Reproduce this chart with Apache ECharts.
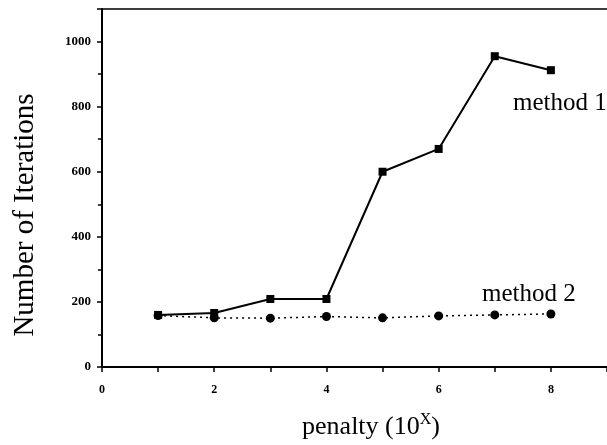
<!DOCTYPE html>
<html><head><meta charset="utf-8">
<script src="https://cdn.jsdelivr.net/npm/echarts@6/dist/echarts.min.js"></script>
<style>html,body{margin:0;padding:0;background:#fff}#c{width:607px;height:445px}</style>
</head><body><div id="c"></div>
<script>
const penalty = [1, 2, 3, 4, 5, 6, 7, 8];
const method1 = [160, 166, 209, 209, 600, 670, 955, 912];
const method2 = [158, 151, 150, 155, 151, 157, 160, 163];
const seriesNames = ['method 1', 'method 2'];
const yTitle = 'Number of Iterations';

const chart = echarts.init(document.getElementById('c'));
const serif = '"Liberation Serif", "DejaVu Serif", serif';
const tickLbl = { color: '#000', fontFamily: serif, fontWeight: 'bold' };
chart.setOption({
  animation: false,
  backgroundColor: '#fff',
  grid: { left: 102, top: 9, bottom: 78, right: 0, show: false },
  xAxis: [{
    type: 'value', min: 0, max: 9, interval: 2,
    axisLine: { show: true, onZero: false, lineStyle: { color: '#000', width: 2 } },
    axisTick: { show: true, length: 5, lineStyle: { color: '#000', width: 1.5 } },
    minorTick: { show: true, splitNumber: 2, length: 5, lineStyle: { color: '#000', width: 1.5 } },
    axisLabel: Object.assign({ margin: 17, fontSize: 12, showMaxLabel: false }, tickLbl),
    splitLine: { show: false }
  }, {
    type: 'value', min: 0, max: 9, position: 'top',
    axisLine: { show: true, onZero: false, lineStyle: { color: '#000', width: 1.5 } },
    axisTick: { show: false }, axisLabel: { show: false }, splitLine: { show: false }
  }],
  yAxis: {
    type: 'value', min: 0, max: 1100, interval: 200,
    axisLine: { show: true, onZero: false, lineStyle: { color: '#000', width: 2 } },
    axisTick: { show: true, length: 5, lineStyle: { color: '#000', width: 1.5 } },
    minorTick: { show: true, splitNumber: 2, length: 4, lineStyle: { color: '#000', width: 1.5 } },
    axisLabel: Object.assign({ margin: 11, fontSize: 13, showMaxLabel: false, formatter: v => String(v) }, tickLbl),
    splitLine: { show: false }
  },
  graphic: [
    { type: 'text', x: 25, y: 215, rotation: Math.PI / 2,
      style: { text: yTitle, font: '29px ' + serif, fill: '#000', align: 'center', verticalAlign: 'middle' } },
    { type: 'text', x: 371, y: 427,
      style: { text: '{a|penalty (10}{b|X}{a|)}', align: 'center', verticalAlign: 'middle',
        rich: { a: { fontFamily: serif, fontSize: 26, color: '#000' },
                b: { fontFamily: serif, fontSize: 16, color: '#000', verticalAlign: 'top', padding: [0, 0, 14, 0] } } } },
    { type: 'text', x: 513, y: 103,
      style: { text: seriesNames[0], font: '25px ' + serif, fill: '#000', verticalAlign: 'middle' } },
    { type: 'text', x: 482, y: 294,
      style: { text: seriesNames[1], font: '25px ' + serif, fill: '#000', verticalAlign: 'middle' } }
  ],
  series: [
    { name: seriesNames[0], type: 'line', data: penalty.map((x, i) => [x, method1[i]]),
      symbol: 'rect', symbolSize: 8, itemStyle: { color: '#000' },
      lineStyle: { color: '#000', width: 2 } },
    { name: seriesNames[1], type: 'line', data: penalty.map((x, i) => [x, method2[i]]),
      symbol: 'circle', symbolSize: 9, itemStyle: { color: '#000' },
      lineStyle: { color: '#000', width: 1.5, type: [2, 4] } }
  ]
});
</script></body></html>
